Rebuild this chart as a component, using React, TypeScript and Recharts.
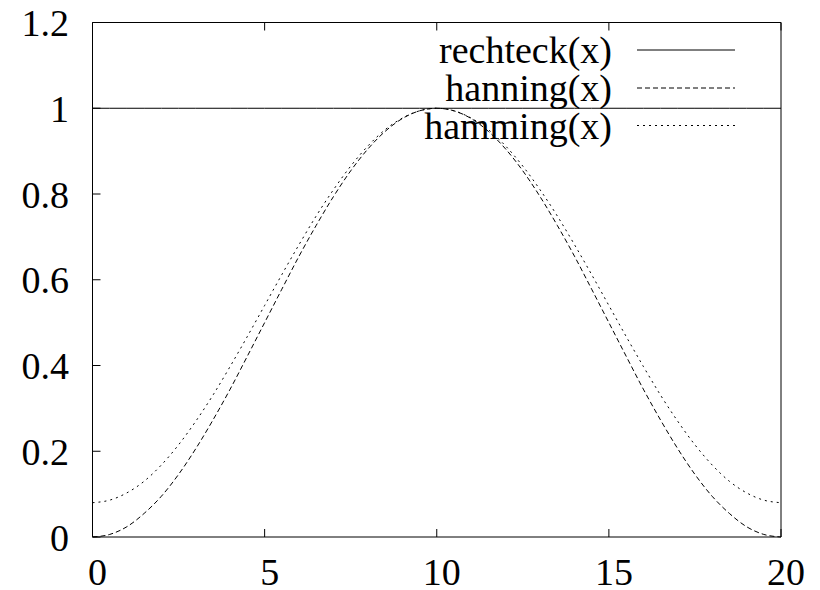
import React from 'react';
import { LineChart, Line, XAxis, YAxis, Legend } from 'recharts';

const xValues = [0, 0.5, 1, 1.5, 2, 2.5, 3, 3.5, 4, 4.5, 5, 5.5, 6, 6.5, 7, 7.5, 8, 8.5, 9, 9.5, 10,
  10.5, 11, 11.5, 12, 12.5, 13, 13.5, 14, 14.5, 15, 15.5, 16, 16.5, 17, 17.5, 18, 18.5, 19, 19.5, 20];

const rechteck = [1, 1, 1, 1, 1, 1, 1, 1, 1, 1, 1, 1, 1, 1, 1, 1, 1, 1, 1, 1, 1,
  1, 1, 1, 1, 1, 1, 1, 1, 1, 1, 1, 1, 1, 1, 1, 1, 1, 1, 1, 1];

const hanning = [0, 0.006, 0.024, 0.055, 0.095, 0.146, 0.206, 0.273, 0.345, 0.422, 0.5,
  0.578, 0.655, 0.727, 0.794, 0.854, 0.905, 0.946, 0.976, 0.994, 1,
  0.994, 0.976, 0.946, 0.905, 0.854, 0.794, 0.727, 0.655, 0.578, 0.5,
  0.422, 0.345, 0.273, 0.206, 0.146, 0.095, 0.055, 0.024, 0.006, 0];

const hamming = [0.08, 0.086, 0.103, 0.13, 0.168, 0.215, 0.27, 0.331, 0.398, 0.468, 0.54,
  0.612, 0.682, 0.749, 0.81, 0.865, 0.912, 0.95, 0.977, 0.994, 1,
  0.994, 0.977, 0.95, 0.912, 0.865, 0.81, 0.749, 0.682, 0.612, 0.54,
  0.468, 0.398, 0.331, 0.27, 0.215, 0.168, 0.13, 0.103, 0.086, 0.08];

const xTicks = [0, 5, 10, 15, 20];
const yTicks = [0, 0.2, 0.4, 0.6, 0.8, 1, 1.2];
const seriesNames = ['rechteck(x)', 'hanning(x)', 'hamming(x)'];
const dashes = ['', '5 3', '2 4'];

const data = xValues.map((x, i) => ({ x, rechteck: rechteck[i], hanning: hanning[i], hamming: hamming[i] }));

const FONT = 'Liberation Serif, Times New Roman, serif';
const FS = 38;
const TICK = 8;

const BottomTick = (props: any) => {
  const { x, y, payload } = props;
  return (
    <g>
      <line x1={x} y1={y} x2={x} y2={y - TICK} stroke="#000" strokeWidth={1} />
      <text x={x + 5} y={y + 48} textAnchor="middle" fontFamily={FONT} fontSize={FS} fill="#000">
        {String(payload.value)}
      </text>
    </g>
  );
};

const TopTick = (props: any) => {
  const { x, y } = props;
  return <line x1={x} y1={y} x2={x} y2={y + TICK} stroke="#000" strokeWidth={1} />;
};

const LeftTick = (props: any) => {
  const { x, y, payload } = props;
  return (
    <g>
      <line x1={x} y1={y} x2={x + TICK} y2={y} stroke="#000" strokeWidth={1} />
      <text x={x - 23.5} y={y + 13.5} textAnchor="end" fontFamily={FONT} fontSize={FS} fill="#000">
        {String(payload.value)}
      </text>
    </g>
  );
};

const RightTick = (props: any) => {
  const { x, y } = props;
  return <line x1={x} y1={y} x2={x - TICK} y2={y} stroke="#000" strokeWidth={1} />;
};

const LegendContent = () => {
  const rowsY = [42, 80, 117.5];
  return (
    <svg width={812} height={150} style={{ display: 'block' }}>
      {seriesNames.map((n, i) => (
        <g key={n}>
          <text x={604} y={rowsY[i] + 13} textAnchor="end" fontFamily={FONT} fontSize={FS} fill="#000">
            {n}
          </text>
          <line x1={629} y1={rowsY[i]} x2={727} y2={rowsY[i]} stroke="#000" strokeWidth={1}
            strokeDasharray={dashes[i] || undefined} />
        </g>
      ))}
    </svg>
  );
};

export default function App() {
  return (
    <div style={{ width: 812, height: 582 }}>
      <LineChart width={812} height={582} data={data}
        margin={{ top: 4.5, right: 29, bottom: 13, left: 24.5 }}>
        <XAxis xAxisId="b" dataKey="x" type="number" domain={[0, 20]} ticks={xTicks}
          orientation="bottom" height={40} tickSize={0} tickMargin={0} tickLine={false}
          axisLine={{ stroke: '#000', strokeWidth: 1 }} tick={<BottomTick />} interval={0} />
        <XAxis xAxisId="t" dataKey="x" type="number" domain={[0, 20]} ticks={xTicks}
          orientation="top" height={10} tickSize={0} tickMargin={0} tickLine={false}
          axisLine={{ stroke: '#000', strokeWidth: 1 }} tick={<TopTick />} interval={0} />
        <YAxis yAxisId="l" type="number" domain={[0, 1.2]} ticks={yTicks} orientation="left"
          width={60} tickSize={0} tickMargin={0} tickLine={false}
          axisLine={{ stroke: '#000', strokeWidth: 1 }} tick={<LeftTick />} interval={0} />
        <YAxis yAxisId="r" type="number" domain={[0, 1.2]} ticks={yTicks} orientation="right"
          width={10} tickSize={0} tickMargin={0} tickLine={false}
          axisLine={{ stroke: '#000', strokeWidth: 1 }} tick={<RightTick />} interval={0} />
        <Line xAxisId="b" yAxisId="l" dataKey="rechteck" type="linear" stroke="#000" strokeWidth={1}
          dot={false} activeDot={false} isAnimationActive={false} />
        <Line xAxisId="b" yAxisId="l" dataKey="hanning" type="monotone" stroke="#000" strokeWidth={1}
          strokeDasharray="5 3" dot={false} activeDot={false} isAnimationActive={false} />
        <Line xAxisId="b" yAxisId="l" dataKey="hamming" type="monotone" stroke="#000" strokeWidth={1}
          strokeDasharray="2 4" dot={false} activeDot={false} isAnimationActive={false} />
        <Legend layout="horizontal" align="center" verticalAlign="middle" content={<LegendContent />}
          wrapperStyle={{ position: 'absolute', top: 0, left: 0, width: 812, height: 150, pointerEvents: 'none' }} />
      </LineChart>
    </div>
  );
}
